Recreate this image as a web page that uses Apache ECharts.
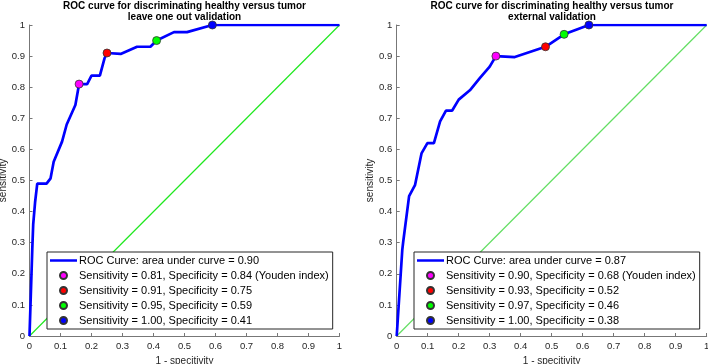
<!DOCTYPE html>
<html>
<head>
<meta charset="utf-8">
<script src="https://cdn.jsdelivr.net/npm/echarts@6/dist/echarts.min.js"></script>
<style>
  html, body { margin: 0; padding: 0; background: #fff; }
  #main { width: 708px; height: 364px; }
</style>
</head>
<body>
<div id="main"></div>
<script>
// leave one out validation (left panel)
const fprLoo = [0, 0.009, 0.012, 0.018, 0.025, 0.055, 0.068, 0.078, 0.105, 0.12, 0.148, 0.16, 0.186, 0.2, 0.227, 0.242, 0.25, 0.294, 0.347, 0.39, 0.41, 0.466, 0.508, 0.59, 1]
const tprLoo = [0, 0.28, 0.36, 0.43, 0.49, 0.49, 0.507, 0.56, 0.625, 0.68, 0.743, 0.81, 0.81, 0.837, 0.837, 0.893, 0.91, 0.907, 0.93, 0.93, 0.95, 0.977, 0.977, 1, 1]
// external validation (right panel)
const fprExt = [0, 0.018, 0.021, 0.04, 0.059, 0.08, 0.099, 0.12, 0.14, 0.159, 0.179, 0.2, 0.236, 0.268, 0.3, 0.32, 0.381, 0.48, 0.54, 0.62, 1]
const tprExt = [0, 0.277, 0.303, 0.45, 0.485, 0.587, 0.62, 0.62, 0.69, 0.725, 0.725, 0.76, 0.79, 0.829, 0.866, 0.9, 0.897, 0.93, 0.97, 1, 1]

const aucLoo = '0.90'
const aucExt = '0.87'
// cut-off points: [sensitivity, specificity]
const cutsLoo = [[0.81, 0.84], [0.91, 0.75], [0.95, 0.59], [1.00, 0.41]]
const cutsExt = [[0.90, 0.68], [0.93, 0.52], [0.97, 0.46], [1.00, 0.38]]
const cutColors = ['#ff00ff', '#ff0000', '#00ff00', '#0000ff']

const tickLabels = ['0', '0.1', '0.2', '0.3', '0.4', '0.5', '0.6', '0.7', '0.8', '0.9', '1']
const titles = ['ROC curve for discriminating healthy versus tumor\nleave one out validation',
  'ROC curve for discriminating healthy versus tumor\nexternal validation']

const FONT = '"Liberation Sans", Arial, Helvetica, sans-serif'
const grids = [
  { left: 29.5, top: 25, width: 310, height: 311, outerBoundsMode: 'none' },
  { left: 396.7, top: 25, width: 310, height: 311, outerBoundsMode: 'none' }
]
const diagColors = ['#1ee81e', '#62de62']

function axis(idx, isX) {
  return {
    type: 'value',
    gridIndex: idx,
    min: 0, max: 1, interval: 0.1,
    name: isX ? '1 - specitivity' : 'sensitivity',
    nameLocation: 'middle',
    nameGap: isX ? 16.5 : 18,
    nameTextStyle: { fontFamily: FONT, fontSize: 10, color: '#262626' },
    axisLine: { show: true, onZero: false, lineStyle: { color: '#777', width: 1 } },
    axisTick: { show: true, inside: true, length: 3, lineStyle: { color: '#777' } },
    axisLabel: {
      fontFamily: FONT, fontSize: 9.5, color: '#262626', margin: isX ? 5 : 4.5,
      formatter: v => tickLabels[Math.round(v * 10)]
    },
    splitLine: { show: false }
  }
}

function panel(idx, fpr, tpr, auc, cuts) {
  const out = []
  const rocName = 'ROC Curve: area under curve = ' + auc
  out.push({
    name: rocName, type: 'line', xAxisIndex: idx, yAxisIndex: idx,
    data: fpr.map((x, i) => [x, tpr[i]]),
    symbol: 'none', lineStyle: { color: '#0000ff', width: 2.7 }, itemStyle: { color: '#0000ff' },
    z: 3
  })
  out.push({
    name: 'chance' + idx, type: 'line', xAxisIndex: idx, yAxisIndex: idx, silent: true,
    data: [[0, 0], [1, 1]], symbol: 'none',
    itemStyle: { color: diagColors[idx] },
    lineStyle: { color: diagColors[idx], width: 1.2 }, z: 2
  })
  const names = [rocName]
  cuts.forEach((c, i) => {
    let nm = 'Sensitivity = ' + c[0].toFixed(2) + ', Specificity = ' + c[1].toFixed(2)
    if (i === 0) nm += ' (Youden index)'
    names.push(nm)
    out.push({
      name: nm, type: 'scatter', xAxisIndex: idx, yAxisIndex: idx,
      data: [[1 - c[1], c[0]]], symbolSize: 8,
      itemStyle: { color: cutColors[i], borderColor: '#333', borderWidth: 0.8, opacity: 1 },
      z: 5
    })
  })
  return { series: out, names }
}

const p1 = panel(0, fprLoo, tprLoo, aucLoo, cutsLoo)
const p2 = panel(1, fprExt, tprExt, aucExt, cutsExt)

function legend(names, left) {
  return {
    data: names.map((n, i) => i === 0
      ? { name: n, icon: 'path://M0,0L27,0L27,2.5L0,2.5Z' }
      : { name: n, icon: 'circle' }),
    orient: 'vertical', left: left, top: 252,
    itemWidth: 27, itemHeight: 7, itemGap: 0,
    padding: [1, 4, 1, 3],
    backgroundColor: '#fff', borderColor: '#262626', borderWidth: 1, borderRadius: 0,
    selectedMode: false,
    textStyle: { fontFamily: FONT, fontSize: 11, color: '#000', lineHeight: 15, padding: [0, 0, 0, -3] }
  }
}

const chart = echarts.init(document.getElementById('main'), null, { renderer: 'canvas' })
chart.setOption({
  animation: false,
  backgroundColor: '#fff',
  title: [
    { text: titles[0], left: 184.5, top: 0, textAlign: 'center', padding: 0,
      textStyle: { fontFamily: FONT, fontSize: 10, fontWeight: 'bold', color: '#000', lineHeight: 11.5 } },
    { text: titles[1], left: 552, top: 0, textAlign: 'center', padding: 0,
      textStyle: { fontFamily: FONT, fontSize: 10, fontWeight: 'bold', color: '#000', lineHeight: 11.5 } }
  ],
  grid: grids,
  xAxis: [axis(0, true), axis(1, true)],
  yAxis: [axis(0, false), axis(1, false)],
  legend: [legend(p1.names, 47), legend(p2.names, 414)],
  series: p1.series.concat(p2.series)
})
</script>
</body>
</html>
